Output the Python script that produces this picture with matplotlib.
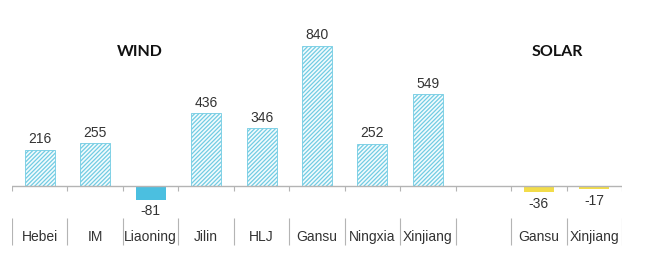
import matplotlib
matplotlib.use("Agg")
import matplotlib.pyplot as plt
import matplotlib.transforms as mtransforms

plt.rcParams["font.family"] = ["Liberation Sans", "DejaVu Sans"]
plt.rcParams["hatch.linewidth"] = 0.9

# provinces along the axis (one empty slot separates wind from solar)
categories = ["Hebei", "IM", "Liaoning", "Jilin", "HLJ", "Gansu", "Ningxia",
              "Xinjiang", "", "Gansu", "Xinjiang"]
wind_idx = [0, 1, 2, 3, 4, 5, 6, 7]
wind_values = [216, 255, -81, 436, 346, 840, 252, 549]
solar_idx = [9, 10]
solar_values = [-36, -17]

HATCH_COL = "#72cce3"
NEG_COL = "#4bbfe0"
SOLAR_COL = "#f2dc4a"
AXIS_COL = "#b4b4b4"
TEXT_COL = "#333333"


def main() -> None:
    fig = plt.figure(figsize=(6.45, 2.69), dpi=100)
    ax = fig.add_axes([12 / 645, 0, 610 / 645, 1])
    ax.set_xlim(-0.5, 10.5)
    ax.set_ylim(-497, 1114)
    ax.axis("off")

    width = 0.54
    for x, v in zip(wind_idx, wind_values):
        if v >= 0:
            ax.bar(x, v, width, facecolor="#f2fbfd", edgecolor=HATCH_COL,
                   hatch="////////", linewidth=0.6)
            ax.text(x, v + 22, f"{v}", ha="center", va="bottom",
                    fontsize=10, color=TEXT_COL)
        else:
            ax.bar(x, v, width, color=NEG_COL, linewidth=0)
            ax.text(x, v - 28, f"{v}", ha="center", va="top",
                    fontsize=10, color=TEXT_COL)

    for x, v in zip(solar_idx, solar_values):
        ax.bar(x, v, width, color=SOLAR_COL, linewidth=0)
        ax.text(x, v - 28, f"{v}", ha="center", va="top",
                fontsize=10, color=TEXT_COL)

    # baseline with small ticks between categories
    ax.plot([-0.5, 10.5], [0, 0], color=AXIS_COL, linewidth=1, zorder=3)
    bounds = [i - 0.5 for i in range(len(categories) + 1)]
    ax.vlines(bounds, -28, 0, color=AXIS_COL, linewidth=0.8)

    # label row underneath, with separators
    trans = mtransforms.blended_transform_factory(ax.transData, ax.transAxes)
    ax.vlines(bounds, 0.089, 0.19, color=AXIS_COL, linewidth=0.8,
              transform=trans)
    for i, name in enumerate(categories):
        ax.text(i, 0.119, name, ha="center", va="center", fontsize=10,
                color=TEXT_COL, transform=trans)

    ax.text(1.81, 0.807, "WIND", ha="center", va="center", fontsize=11.5,
            fontweight="bold", family=["Lato", "DejaVu Sans"],
            color="#111111", transform=trans)
    ax.text(9.33, 0.807, "SOLAR", ha="center", va="center", fontsize=11.5,
            fontweight="bold", family=["Lato", "DejaVu Sans"],
            color="#111111", transform=trans)

    fig.savefig("out.png", dpi=100)


if __name__ == "__main__":
    main()
